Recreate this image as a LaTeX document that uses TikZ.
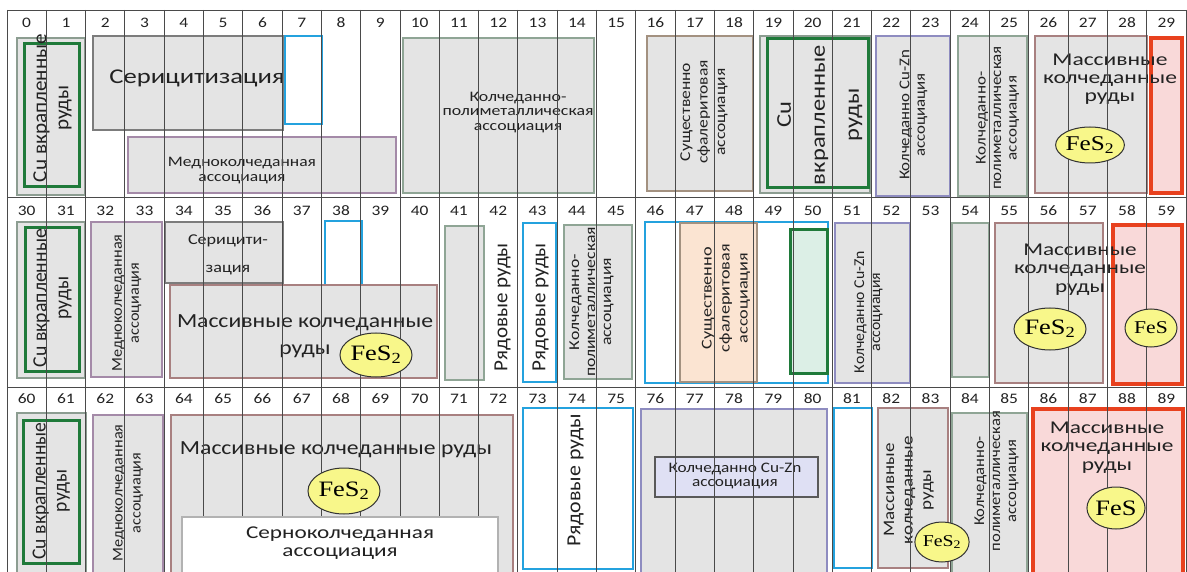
\documentclass[tikz,border=0pt]{standalone}
\usepackage{fontspec}
\usepackage{graphicx}
\setmainfont{Carlito}
\newfontfamily\serifface{Liberation Serif}
\usetikzlibrary{shapes.geometric}

\definecolor{boxfill}{HTML}{E4E4E4}
\definecolor{ink}{HTML}{222222}
\definecolor{gridc}{HTML}{4A4A4A}
\definecolor{cugreen}{HTML}{1F7A3A}
\definecolor{skyblue}{HTML}{24A2DE}
\definecolor{redline}{HTML}{E8411E}
\definecolor{pinkfill}{HTML}{F9D9D9}
\definecolor{purpleb}{HTML}{A48AA8}
\definecolor{brownb}{HTML}{A88080}
\definecolor{sandb}{HTML}{A39180}
\definecolor{greenb}{HTML}{8FA595}
\definecolor{indigob}{HTML}{8E8CC0}
\definecolor{darkb}{HTML}{7C7C7C}
\definecolor{peach}{HTML}{FBE4D2}
\definecolor{mint}{HTML}{DCEFE6}
\definecolor{lavender}{HTML}{DFE0F4}
\definecolor{fesfill}{HTML}{F8F78A}

% rectangle node from corner coordinates: name, style, x1, y1, x2, y2
\newcommand\bx[6]{%
  \node[#2, minimum width={(#5-#3)*1pt}, minimum height={(#6-#4)*1pt}]
    (#1) at ({(#3+#5)/2},{(#4+#6)/2}) {};}
% centred lines of text, stretched along the line direction to a given width (pt)
\newcommand\fitw[2]{%
  \resizebox{#1pt}{\height}{\begin{tabular}{@{}c@{}}#2\end{tabular}}}
\renewcommand\arraystretch{1}
% sulphide formulas, slightly widened
\newcommand\fesii{\scalebox{1.2}[1]{FeS\textsubscript{2}}}
\newcommand\fesi{\scalebox{1.2}[1]{FeS}}

\begin{document}
\begin{tikzpicture}[x=1pt, y=-1pt,
  box/.style={draw, fill=boxfill, inner sep=0pt, outer sep=0pt, line width=1.3pt},
  grayb/.style={box, draw=greenb!80!gray},
  serb/.style={box, draw=darkb, line width=1.6pt},
  medb/.style={box, draw=purpleb},
  massb/.style={box, draw=brownb},
  polyb/.style={box, draw=greenb},
  sphb/.style={box, draw=sandb},
  zincb/.style={box, draw=indigob},
  cuinner/.style={box, draw=cugreen, line width=3pt},
  blueb/.style={box, fill=white, draw=skyblue, line width=2.8pt},
  redb/.style={box, fill=pinkfill, draw=redline, line width=3.6pt},
  lbl/.style={text=ink, inner sep=0pt, align=center},
  vlbl/.style={lbl, rotate=90},
  fs/.style 2 args={font=\fontsize{#1}{#2}\selectfont},
  num/.style={text=ink, inner sep=0pt, xscale=1.2, font=\fontsize{14.5}{15}\selectfont},
  fes/.style={ellipse, draw=black!80, line width=1pt, fill=fesfill, inner sep=0pt,
    text=black},
  fesfont/.style={font=\serifface\fontsize{#1}{#1}\selectfont},
  gridline/.style={draw=gridc, line width=0.9pt}
]
\useasboundingbox (0,0) rectangle (1187,572);
\clip (0,0) rectangle (1187,572);
\fill[white] (0,0) rectangle (1187,572);

% ---------- row 0-29 ----------
\bx{aO}{grayb}{17}{38}{85}{195}
\bx{aI}{cuinner}{24}{44}{79}{187}
\bx{aSer}{serb}{93}{36}{283}{130}
\bx{aBl}{blueb}{285}{36}{322}{124}
\bx{aMed}{medb}{128}{137}{396}{193}
\bx{aPoly}{polyb}{403}{38}{594}{193}
\bx{aSph}{sphb}{647}{36}{753}{191}
\bx{aCuO}{grayb}{760}{36}{870}{193}
\bx{aCuI}{cuinner}{767}{39}{868}{188}
\bx{aZn}{zincb}{876}{36}{950}{196}
\bx{aPoly2}{polyb}{958}{36}{1027}{196}
\bx{aMass}{massb}{1035}{36}{1147}{193}
\bx{aRed}{redb}{1151}{38}{1182}{193}

\node[vlbl, fs={20}{22}] (tA1) at (53,108) {\fitw{148}{Cu вкрапленные\\руды}};
\node[lbl, fs={21}{24}] (tA2) at (197,79) {\fitw{175}{Серицитизация}};
\node[lbl, fs={14.5}{15}] (tA3) at (242,171) {\fitw{148}{Медноколчеданная\\ассоциация}};
\node[lbl, fs={14.5}{14.5}] (tA4) at (518,113) {\fitw{151}{Колчеданно-\\полиметаллическая\\ассоциация}};
\node[vlbl, fs={15}{17.5}] (tA5) at (704,112) {\fitw{104}{Существенно\\сфалеритовая\\ассоциация}};
\node[vlbl, fs={21}{34}] (tA6) at (818,115) {\fitw{140}{Cu\\вкрапленные\\руды}};
\node[vlbl, fs={15}{15.5}] (tA7) at (914,115) {\fitw{130}{Колчеданно Cu-Zn\\ассоциация}};
\node[vlbl, fs={15}{15.5}] (tA8) at (998,118) {\fitw{144}{Колчеданно-\\полиметаллическая\\ассоциация}};
\node[lbl, fs={18}{18}] (tA9) at (1110,80) {\fitw{134}{Массивные\\колчеданные\\руды}};

% ---------- row 30-59 ----------
\bx{bO}{grayb}{17}{222}{85}{378}
\bx{bI}{cuinner}{25}{228}{79}{371}
\bx{bMed}{medb}{91}{222}{162}{377}
\bx{bSer}{serb}{165}{222}{283}{283}
\bx{bBl}{blueb}{325}{221}{362}{308}
\bx{bMass}{massb}{170}{285}{437}{378}
\bx{bG}{polyb}{445}{226}{484}{380}
\bx{bBl2}{blueb}{523}{223}{556}{382}
\bx{bPoly}{polyb}{564}{225}{632}{379}
\bx{bBlL}{blueb}{645}{222}{828}{383}
\bx{bSph}{sphb, fill=peach}{680}{223}{757}{382}
\bx{bGrn}{cuinner, fill=mint}{790}{230}{827}{373}
\bx{bZn}{zincb}{835}{223}{910}{383}
\bx{bG2}{polyb}{952}{223}{989}{377}
\bx{bMass2}{massb}{995}{223}{1103}{383}
\bx{bRed}{redb}{1113}{225}{1182}{384}

\node[vlbl, fs={20}{22}] (tB1) at (53,298) {\fitw{138}{Cu вкрапленные\\руды}};
\node[vlbl, fs={15}{17}] (tB2) at (127,303) {\fitw{137}{Медноколчеданная\\ассоциация}};
\node[lbl, fs={15}{28}] (tB3) at (228,253) {\fitw{80}{Серицити-\\зация}};
\node[lbl, fs={20}{27}] (tB4) at (305,336) {\fitw{256}{Массивные колчеданные\\руды}};
\node[vlbl, fs={20}{22}] (tB5) at (503,307) {\fitw{128}{Рядовые руды}};
\node[vlbl, fs={20}{22}] (tB6) at (541,307) {\fitw{128}{Рядовые руды}};
\node[vlbl, fs={15}{16}] (tB7) at (592,302) {\fitw{150}{Колчеданно-\\полиметаллическая\\ассоциация}};
\node[vlbl, fs={15}{18}] (tB8) at (726,298) {\fitw{108}{Существенно\\сфалеритовая\\ассоциация}};
\node[vlbl, fs={15}{16}] (tB9) at (869,312) {\fitw{122}{Колчеданно Cu-Zn\\ассоциация}};
\node[lbl, fs={18}{18.5}] (tB10) at (1080,270) {\fitw{132}{Массивные\\колчеданные\\руды}};

% ---------- row 60-89 ----------
\bx{cO}{grayb}{17}{413}{86}{580}
\bx{cI}{cuinner}{23}{420}{79}{563}
\bx{cMed}{medb}{93}{415}{163}{580}
\bx{cMass}{massb}{171}{415}{513}{580}
\bx{cBl}{blueb}{523}{408}{633}{569}
\bx{cZn}{zincb}{641}{409}{827}{580}
\bx{cZnIn}{box, fill=lavender, draw=gray!70!black, line width=1.2pt}{655}{457}{818}{497}
\bx{cBl2}{blueb}{834}{408}{872}{568}
\bx{cMass2}{massb}{878}{408}{948}{568}
\bx{cPoly}{polyb}{952}{413}{1027}{580}
\bx{cRed}{redb}{1033}{409}{1183}{580}

\node[vlbl, fs={20}{21}] (tC1) at (52,491) {\fitw{137}{Cu вкрапленные\\руды}};
\node[vlbl, fs={15}{18}] (tC2) at (128,493) {\fitw{137}{Медноколчеданная\\ассоциация}};
\node[lbl, fs={20}{22}] (tC3) at (336,450) {\fitw{312}{Массивные колчеданные руды}};
\node[vlbl, fs={20}{22}] (tC4) at (576,480) {\fitw{133}{Рядовые руды}};
\node[lbl, fs={14.5}{13.5}] (tC5) at (735,477) {\fitw{133}{Колчеданно Cu-Zn\\ассоциация}};
\node[vlbl, fs={16}{18.5}] (tC6) at (909,490) {\fitw{108}{Массивные\\колчеданные\\руды}};
\node[vlbl, fs={15}{16}] (tC7) at (997,481) {\fitw{140}{Колчеданно-\\полиметаллическая\\ассоциация}};
\node[lbl, fs={18}{18.5}] (tC8) at (1107,448) {\fitw{133}{Массивные\\колчеданные\\руды}};

% ---------- grid ----------
\foreach \i in {0,...,30}
  \draw[gridline] ({7+39.3*\i},10) -- ({7+39.3*\i},572);
\foreach \yy in {10,197,387}
  \draw[gridline] (7,\yy) -- (1186,\yy);

\foreach \r/\yy in {0/23,1/211,2/399}
  \foreach \c in {0,...,29} {
    \pgfmathtruncatemacro\nn{30*\r+\c}
    \node[num] (num\nn) at ({7+39.3*(\c+0.5)},\yy) {\nn};
  }

% ---------- sulphide markers ----------
\node[fes, fesfont=21, minimum width=66, minimum height=36] (fA) at (1090,145) {\fesii};
\node[fes, fesfont=22, minimum width=64, minimum height=44] (fB1) at (376,355) {\fesii};
\node[fes, fesfont=22, minimum width=64, minimum height=42] (fB2) at (1050,329) {\fesii};
\node[fes, fesfont=18, minimum width=52, minimum height=38] (fB3) at (1151,328) {\fesi};
\node[fes, fesfont=22, minimum width=65, minimum height=46] (fC1) at (344,491) {\fesii};
\node[fes, fesfont=16.5, minimum width=50, minimum height=40] (fC2) at (942,542) {\fesii};
\node[fes, fesfont=22, minimum width=58, minimum height=42] (fC3) at (1116,508) {\fesi};

% ---------- pyrite association on top ----------
\bx{cPyr}{box, fill=white, draw=gray!60, line width=1.2pt}{182}{517}{498}{580}
\node[lbl, fs={18}{18}] (tC9) at (340,544) {\fitw{188}{Серноколчеданная\\ассоциация}};
\end{tikzpicture}
\end{document}
